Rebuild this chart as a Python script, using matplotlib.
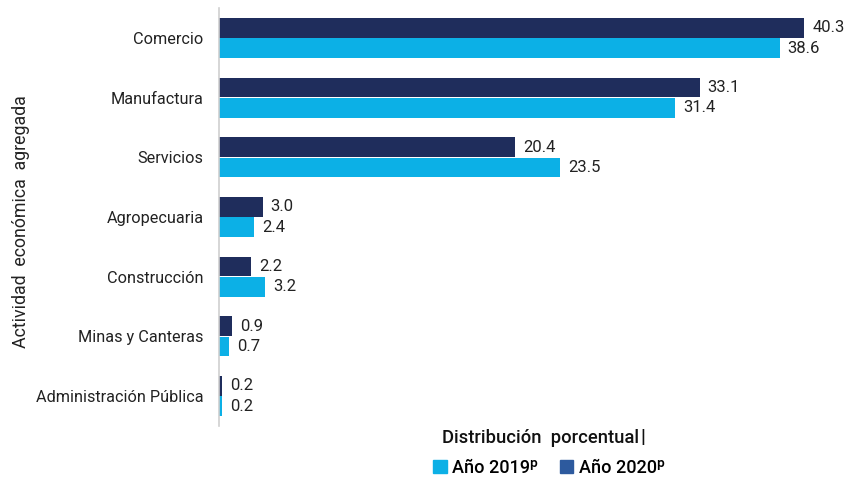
import matplotlib
matplotlib.use("Agg")
import matplotlib.pyplot as plt
from matplotlib.patches import Patch
import numpy as np

plt.rcParams['font.family'] = ['Roboto', 'DejaVu Sans']

# Data
categorias = ["Comercio", "Manufactura", "Servicios", "Agropecuaria",
              "Construcción", "Minas y Canteras", "Administración Pública"]
anio_2020 = [40.3, 33.1, 20.4, 3.0, 2.2, 0.9, 0.2]
anio_2019 = [38.6, 31.4, 23.5, 2.4, 3.2, 0.7, 0.2]

color_2020 = "#1f2d5c"
color_2019 = "#0cb0e6"
color_leg_2020 = "#2d5a9e"

fig = plt.figure(figsize=(8.49, 4.78), dpi=100)
ax = fig.add_axes([219 / 849, 1 - 426 / 478, 610 / 849, 418 / 478])

y = np.arange(len(categorias))
h = 0.33
ax.barh(y - 0.17, anio_2020, height=h, color=color_2020)
ax.barh(y + 0.17, anio_2019, height=h, color=color_2019)

# value labels next to each bar
for i in range(len(categorias)):
    ax.text(anio_2020[i] + 0.55, y[i] - 0.17, f"{anio_2020[i]:.1f}",
            va="center", ha="left", fontsize=12, color="#222222")
    ax.text(anio_2019[i] + 0.55, y[i] + 0.17, f"{anio_2019[i]:.1f}",
            va="center", ha="left", fontsize=12, color="#222222")

ax.set_xlim(0, 42)
ax.set_ylim(len(categorias) - 0.5, -0.5)
ax.set_yticks(y)
ax.set_yticklabels(categorias, fontsize=11.7, color="#222222")
ax.tick_params(axis="y", length=0, pad=11)
ax.set_xticks([])
for s in ["top", "right", "bottom"]:
    ax.spines[s].set_visible(False)
ax.spines["left"].set_color("#d0d0d0")
ax.spines["left"].set_linewidth(1.2)

fig.text(21 / 849, 1 - 222 / 478, "Actividad  económica  agregada", rotation=90,
         ha="center", va="center", fontsize=12.8, color="#222222")

fig.text(540 / 849, 1 - 438 / 478, "Distribución  porcentual", ha="center",
         va="center", fontsize=13.2, fontweight="medium", color="#111111")
fig.text(643 / 849, 1 - 437 / 478, "|", ha="center", va="center",
         fontsize=13.5, fontweight="bold", color="#111111")

handles = [Patch(color=color_2019, label="Año 2019ᵖ"),
           Patch(color=color_leg_2020, label="Año 2020ᵖ")]
fig.legend(handles=handles, loc="center", bbox_to_anchor=(549 / 849, 1 - 468 / 478),
           ncol=2, frameon=False, handlelength=0.75, handleheight=0.75,
           handletextpad=0.3, columnspacing=1.2,
           prop={"family": ["Roboto", "DejaVu Sans"], "weight": "medium", "size": 13})

fig.savefig("out.png", dpi=100)
